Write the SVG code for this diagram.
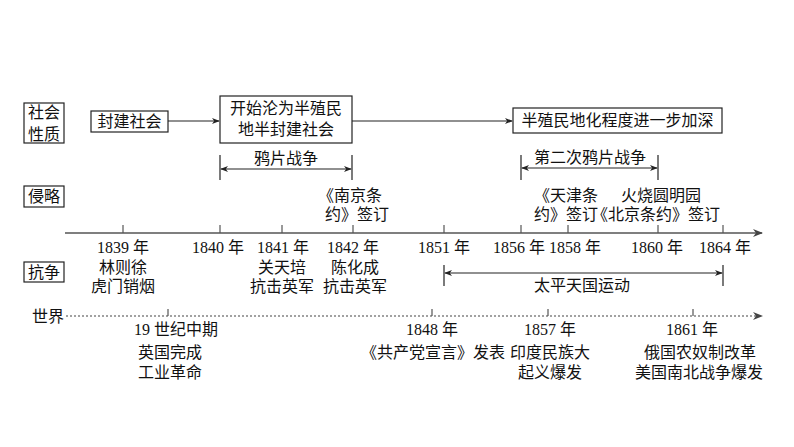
<svg xmlns="http://www.w3.org/2000/svg" width="794" height="447" viewBox="0 0 794 447">
<defs>
<style>
.t{font-family:"Noto Sans CJK SC","Liberation Sans",sans-serif;font-size:16px;fill:#111;text-anchor:middle}
.s{font-family:"Liberation Serif","Noto Sans CJK SC",serif;font-size:16px;fill:#111;text-anchor:middle}
.b{fill:#fff;stroke:#222;stroke-width:1.2}
.l{stroke:#222;stroke-width:1.2;fill:none}
.ax{stroke:#555;stroke-width:1.6;fill:none}
.tk{stroke:#555;stroke-width:1.2}
.dot{stroke:#444;stroke-width:1.2;stroke-dasharray:2 2;fill:none}
</style>
<marker id="ar" viewBox="0 0 10 10" refX="9" refY="5" markerWidth="8" markerHeight="8" orient="auto-start-reverse" markerUnits="userSpaceOnUse"><path d="M0,1 L10,5 L0,9 L3,5 Z" fill="#222"/></marker>
<marker id="ar2" viewBox="0 0 10 10" refX="9" refY="5" markerWidth="10" markerHeight="10" orient="auto" markerUnits="userSpaceOnUse"><path d="M0,1 L10,5 L0,9 L3,5 Z" fill="#444"/></marker>
</defs>

<g id="row-labels">
<rect class="b" x="24" y="103" width="40" height="40"/>
<text class="t" x="44" y="118">社会</text>
<text class="t" x="44" y="140">性质</text>
<rect class="b" x="24" y="186" width="40" height="21"/>
<text class="t" x="44" y="202">侵略</text>
<rect class="b" x="24" y="262" width="40" height="20"/>
<text class="t" x="44" y="278">抗争</text>
<text class="t" x="48" y="322">世界</text>
</g>

<g id="connectors">
<line class="l" x1="168" y1="121" x2="219" y2="121" marker-end="url(#ar)"/>
<line class="l" x1="352" y1="121" x2="512" y2="121" marker-end="url(#ar)"/>
<line class="l" x1="220" y1="155" x2="220" y2="180"/>
<line class="l" x1="352" y1="155" x2="352" y2="180"/>
<line class="l" x1="221" y1="169" x2="351" y2="169" marker-start="url(#ar)" marker-end="url(#ar)"/>
<line class="l" x1="521" y1="155" x2="521" y2="180"/>
<line class="l" x1="658" y1="155" x2="658" y2="180"/>
<line class="l" x1="522" y1="168" x2="657" y2="168" marker-start="url(#ar)" marker-end="url(#ar)"/>
<line class="l" x1="444" y1="265" x2="444" y2="286"/>
<line class="l" x1="723" y1="265" x2="723" y2="286"/>
<line class="l" x1="445" y1="273" x2="722" y2="273" marker-start="url(#ar)" marker-end="url(#ar)"/>
</g>

<g id="node-feudal">
<rect class="b" x="91" y="111" width="77" height="21"/>
<text class="t" x="129.5" y="127">封建社会</text>
</g>
<g id="node-semi">
<rect class="b" x="220" y="96" width="132" height="47"/>
<text class="t" x="286" y="114">开始沦为半殖民</text>
<text class="t" x="286" y="135">地半封建社会</text>
</g>
<g id="node-deepen">
<rect class="b" x="513" y="108" width="209" height="25"/>
<text class="t" x="617.5" y="126">半殖民地化程度进一步加深</text>
</g>

<g id="wars">
<text class="t" x="286" y="164">鸦片战争</text>
<text class="t" x="590" y="163">第二次鸦片战争</text>
<text class="t" x="350" y="201">《南京条</text>
<text class="t" x="357" y="220">约》签订</text>
<text class="t" x="566" y="201">《天津条</text>
<text class="t" x="566" y="220">约》签订</text>
<text class="t" x="661" y="201">火烧圆明园</text>
<text class="t" x="656" y="220">《北京条约》签订</text>
</g>

<g id="axis">
<line class="ax" x1="65" y1="233" x2="762" y2="233" marker-end="url(#ar2)"/>
<line class="tk" x1="123" y1="225" x2="123" y2="233"/>
<line class="tk" x1="220" y1="225" x2="220" y2="233"/>
<line class="tk" x1="282" y1="225" x2="282" y2="233"/>
<line class="tk" x1="353" y1="225" x2="353" y2="233"/>
<line class="tk" x1="444" y1="225" x2="444" y2="233"/>
<line class="tk" x1="521" y1="225" x2="521" y2="233"/>
<line class="tk" x1="568" y1="225" x2="568" y2="233"/>
<line class="tk" x1="658" y1="225" x2="658" y2="233"/>
<line class="tk" x1="723" y1="225" x2="723" y2="233"/>
<text class="s" x="123" y="253">1839 年</text>
<text class="s" x="218" y="253">1840 年</text>
<text class="s" x="283" y="253">1841 年</text>
<text class="s" x="353" y="253">1842 年</text>
<text class="s" x="444" y="253">1851 年</text>
<text class="s" x="519" y="253">1856 年</text>
<text class="s" x="575" y="253">1858 年</text>
<text class="s" x="657" y="253">1860 年</text>
<text class="s" x="725" y="253">1864 年</text>
</g>

<g id="struggles">
<text class="t" x="123" y="273">林则徐</text>
<text class="t" x="123" y="292">虎门销烟</text>
<text class="t" x="282" y="273">关天培</text>
<text class="t" x="282" y="292">抗击英军</text>
<text class="t" x="355" y="273">陈化成</text>
<text class="t" x="355" y="292">抗击英军</text>
<text class="t" x="582" y="291">太平天国运动</text>
</g>

<g id="world">
<line class="dot" x1="66" y1="316" x2="762" y2="316" marker-end="url(#ar2)"/>
<line class="tk" x1="168" y1="309" x2="168" y2="316"/>
<line class="tk" x1="432" y1="309" x2="432" y2="316"/>
<line class="tk" x1="548" y1="309" x2="548" y2="316"/>
<line class="tk" x1="693" y1="309" x2="693" y2="316"/>
<text class="s" x="176" y="335">19 世纪中期</text>
<text class="t" x="170" y="358">英国完成</text>
<text class="t" x="170" y="378">工业革命</text>
<text class="s" x="432" y="335">1848 年</text>
<text class="t" x="433" y="358">《共产党宣言》发表</text>
<text class="s" x="550" y="335">1857 年</text>
<text class="t" x="550" y="358">印度民族大</text>
<text class="t" x="550" y="378">起义爆发</text>
<text class="s" x="692" y="335">1861 年</text>
<text class="t" x="700" y="358">俄国农奴制改革</text>
<text class="t" x="699" y="378">美国南北战争爆发</text>
</g>
</svg>
